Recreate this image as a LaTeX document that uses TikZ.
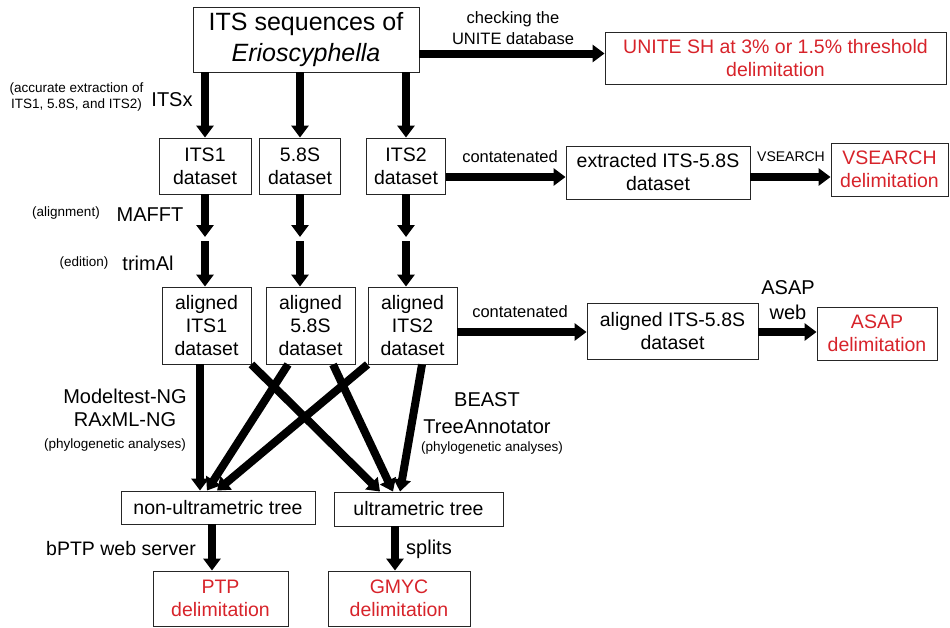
\documentclass[tikz,border=0pt]{standalone}
\usepackage{fontspec}
\setmainfont{Liberation Sans}
\usetikzlibrary{arrows.meta}
\definecolor{dred}{RGB}{215,35,42}
\newcommand\myfs[2]{\fontsize{#1}{#2}\selectfont}
\begin{document}
\begin{tikzpicture}[x=1pt,y=-1pt,
  box/.style={draw=black!85, line width=0.9pt, inner sep=0pt, align=center, font=\myfs{19.5}{23}},
  redbox/.style={box, text=dred},
  arr/.style={line width=8pt, -{Triangle[width=17pt,length=12pt]}},
  lbl/.style={inner sep=0pt, align=center},
  small/.style={lbl, font=\myfs{13.5}{16}},
  mid/.style={lbl, font=\myfs{16.5}{21}},
  big/.style={lbl, font=\myfs{20}{25}}
]
\useasboundingbox (0,0) rectangle (950,627);

% boxes
\node[box, minimum width=226pt, minimum height=65pt, font=\myfs{25}{31}] (top) at (306,39.5) {ITS sequences of\\\textit{Erioscyphella}};
\node[redbox, minimum width=341pt, minimum height=52pt] (unite) at (775.5,58) {UNITE SH at 3\% or 1.5\% threshold\\delimitation};

\node[box, minimum width=92pt, minimum height=56pt] (its1) at (205,166) {ITS1\\dataset};
\node[box, minimum width=81pt, minimum height=56pt] (s58) at (300,166) {5.8S\\dataset};
\node[box, minimum width=79pt, minimum height=56pt] (its2) at (406,166) {ITS2\\dataset};
\node[box, minimum width=184pt, minimum height=53pt] (ext) at (658,172.5) {extracted ITS-5.8S\\dataset};
\node[redbox, minimum width=117pt, minimum height=53pt] (vs) at (889.5,169.5) {VSEARCH\\delimitation};

\node[box, minimum width=89pt, minimum height=77pt] (a1) at (206.5,325.5) {aligned\\ITS1\\dataset};
\node[box, minimum width=89pt, minimum height=77pt] (a58) at (310.5,325.5) {aligned\\5.8S\\dataset};
\node[box, minimum width=89pt, minimum height=77pt] (a2) at (412.5,325.5) {aligned\\ITS2\\dataset};
\node[box, minimum width=171pt, minimum height=56pt] (aext) at (672.5,331) {aligned ITS-5.8S\\dataset};
\node[redbox, minimum width=120pt, minimum height=53pt] (asap) at (877,333.5) {ASAP\\delimitation};

\node[box, minimum width=194pt, minimum height=33pt] (nu) at (218,507.5) {non-ultrametric tree};
\node[box, minimum width=169pt, minimum height=34pt] (u) at (418.5,509) {ultrametric tree};
\node[redbox, minimum width=135pt, minimum height=55pt] (ptp) at (220.5,598.5) {PTP\\delimitation};
\node[redbox, minimum width=142pt, minimum height=55pt] (gmyc) at (399,598.5) {GMYC\\delimitation};

% labels
\node[mid] (chk) at (513,28.5) {checking the\\UNITE database};
\node[small] (acc) at (76.5,97) {(accurate extraction of\\ITS1, 5.8S, and ITS2)};
\node[big] (itsx) at (172,100) {ITSx};
\node[small] (alg) at (66,213) {(alignment)};
\node[big] (mafft) at (150,215) {MAFFT};
\node[small] (edi) at (84,263) {(edition)};
\node[big] (trim) at (148,263) {trimAl};
\node[mid] (cont1) at (510,157) {contatenated};
\node[mid] (cont2) at (520,312) {contatenated};
\node[lbl, font=\myfs{14}{17}] (vsl) at (791,157) {VSEARCH};
\node[big] (asapl) at (788,300) {ASAP\\web};
\node[big] (mt) at (125,396) {Modeltest-NG};
\node[big] (rx) at (125,420) {RAxML-NG};
\node[small] (ph1) at (115,445) {(phylogenetic analyses)};
\node[big] (beast) at (487,400) {BEAST};
\node[big] (ta) at (487,427) {TreeAnnotator};
\node[small] (ph2) at (492,448) {(phylogenetic analyses)};
\node[lbl, font=\myfs{19.5}{24}] (bptp) at (121,549) {bPTP web server};
\node[big] (spl) at (429,549) {splits};

% helper coordinates for the split arrows
\coordinate (gapA) at (0,237);
\coordinate (gapB) at (0,241);

% connectors
\draw[arr] (top.south -| its1) -- (its1.north);
\draw[arr] (top.south -| s58) -- (s58.north);
\draw[arr] (top.south -| its2) -- (its2.north);
\draw[arr] ([yshift=-14pt]top.east) -- ([yshift=-14pt]top.east -| unite.west);

\draw[arr] ([yshift=-11pt]its2.east) -- ([yshift=-11pt]its2.east -| ext.west);
\draw[arr] ([yshift=-4.5pt]ext.east) -- ([yshift=-4.5pt]ext.east -| vs.west);

\foreach \n/\m in {its1/a1, s58/a58, its2/a2}{
  \draw[arr] (\n.south) -- (\n.south |- gapA);
  \draw[arr] (\n.south |- gapB) -- (\n.south |- \m.north);
}

\draw[arr] ([yshift=-6.5pt]a2.east) -- ([yshift=-6.5pt]a2.east -| aext.west);
\draw[arr] ([yshift=-1pt]aext.east) -- ([yshift=-1pt]aext.east -| asap.west);

\draw[arr] ([xshift=-6.5pt]a1.south) -- ([xshift=-18pt]nu.north);
\draw[arr] (a1.south east) -- ([xshift=-38.5pt]u.north);
\draw[arr] ([xshift=-22.5pt]a58.south) -- ([xshift=-11pt]nu.north);
\draw[arr] ([xshift=22.5pt]a58.south) -- ([xshift=-25.5pt]u.north);
\draw[arr] (a2.south west) -- ([xshift=-1pt]nu.north);
\draw[arr] ([xshift=9.5pt]a2.south) -- ([xshift=-18.5pt]u.north);

\draw[arr] ([xshift=-6pt]nu.south) -- ([xshift=-6pt]nu.south |- ptp.north);
\draw[arr] ([xshift=-23.5pt]u.south) -- ([xshift=-23.5pt]u.south |- gmyc.north);
\end{tikzpicture}
\end{document}
